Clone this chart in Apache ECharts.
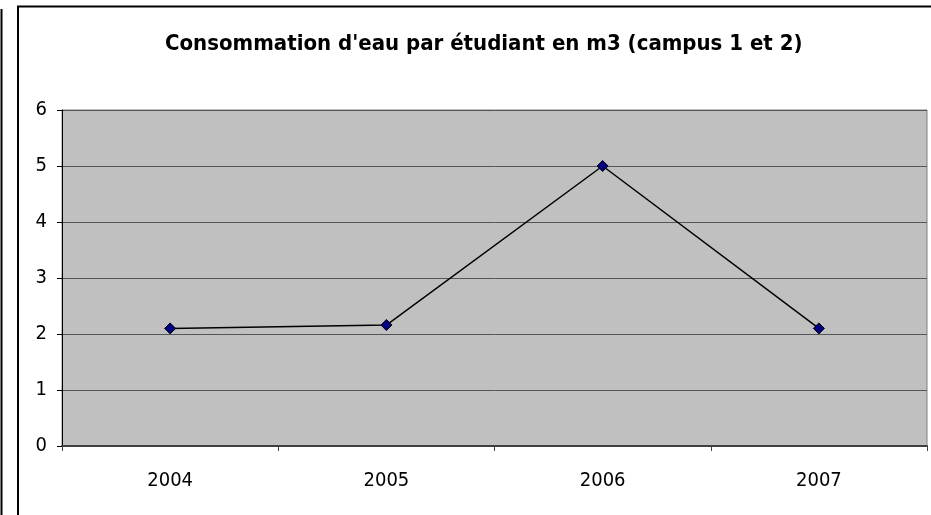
<!DOCTYPE html>
<html><head><meta charset="utf-8">
<script src="https://cdn.jsdelivr.net/npm/echarts@6/dist/echarts.min.js"></script>
<style>html,body{margin:0;padding:0;background:#fff}#c{width:931px;height:515px}</style>
</head><body><div id="c"></div>
<script>
var titleText = "Consommation d'eau par étudiant en m3 (campus 1 et 2)";
var categories = ['2004', '2005', '2006', '2007'];
var values = [2.1, 2.16, 5.0, 2.1];
var yTicks = [0, 1, 2, 3, 4, 5, 6];

var chart = echarts.init(document.getElementById('c'), null, {renderer: 'canvas'});
chart.setOption({
  animation: false,
  backgroundColor: '#ffffff',
  title: {
    text: titleText, left: 160, top: 28,
    textStyle: {fontFamily: 'DejaVu Sans Condensed', fontWeight: 'bold', fontSize: 22, color: '#000'}
  },
  graphic: [
    {type: 'line', shape: {x1: 1.5, y1: 9, x2: 1.5, y2: 515}, style: {stroke: '#000', lineWidth: 2}},
    {type: 'rect', shape: {x: 18, y: 6.5, width: 1000, height: 600}, style: {fill: 'none', stroke: '#000', lineWidth: 2}}
  ],
  grid: {left: 62, top: 110, right: 4, bottom: 69, show: true, backgroundColor: '#C0C0C0', borderColor: '#808080', borderWidth: 1},
  xAxis: {
    type: 'category', data: categories, boundaryGap: true,
    axisLine: {lineStyle: {color: '#404040', width: 2}},
    axisTick: {show: true, length: 5, lineStyle: {color: '#404040'}},
    axisLabel: {fontFamily: 'DejaVu Sans Condensed', fontSize: 20, color: '#000', margin: 25},
    splitLine: {show: false}
  },
  yAxis: {
    type: 'value', min: yTicks[0], max: yTicks[yTicks.length - 1], interval: 1,
    axisLine: {show: true, lineStyle: {color: '#000', width: 1}},
    axisTick: {show: true, length: 5, lineStyle: {color: '#000'}},
    axisLabel: {fontFamily: 'DejaVu Sans Condensed', fontSize: 20, color: '#000', margin: 15},
    splitLine: {show: true, lineStyle: {color: '#555', width: 1}}
  },
  series: [{
    type: 'line', data: values,
    symbol: 'diamond', symbolSize: 11,
    lineStyle: {color: '#000', width: 1.5},
    itemStyle: {color: '#000080', borderColor: '#000', borderWidth: 1}
  }]
});
</script></body></html>
